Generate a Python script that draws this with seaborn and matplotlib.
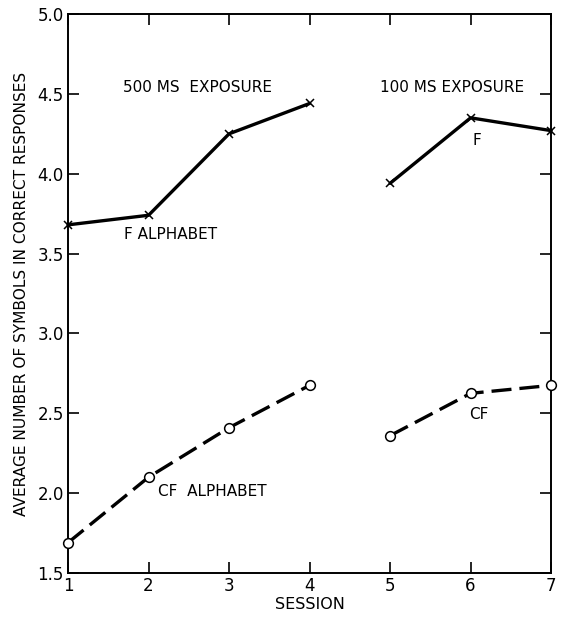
import matplotlib
matplotlib.use("Agg")
import matplotlib.pyplot as plt
import seaborn as sns
import pandas as pd

sessions_500 = [1, 2, 3, 4]
sessions_100 = [5, 6, 7]
f_500 = [3.68, 3.74, 4.25, 4.44]
f_100 = [3.94, 4.35, 4.27]
cf_500 = [1.69, 2.10, 2.41, 2.675]
cf_100 = [2.36, 2.625, 2.675]
x_ticks = [1, 2, 3, 4, 5, 6, 7]
y_ticks = [1.5, 2.0, 2.5, 3.0, 3.5, 4.0, 4.5, 5.0]

sns.set_theme(style="ticks")
plt.rcParams['font.family'] = ['DejaVu Sans']

fig = plt.figure(figsize=(5.67, 6.18), dpi=100)
ax = fig.add_axes([0.12, 0.0728, 0.852, 0.9045])

def seg(x, y, dashed, marker):
    df = pd.DataFrame({"session": x, "value": y})
    sns.lineplot(data=df, x="session", y="value", ax=ax, color="black",
                 linewidth=2.4, linestyle=(0, (6, 2.4)) if dashed else "-",
                 marker=marker, markersize=7 if marker == "o" else 6,
                 markerfacecolor="white", markeredgecolor="black",
                 markeredgewidth=1.1, estimator=None, zorder=3, clip_on=False)

seg(sessions_500, f_500, False, "x")
seg(sessions_100, f_100, False, "x")
seg(sessions_500, cf_500, True, "o")
seg(sessions_100, cf_100, True, "o")

ax.set_xlim(1, 7)
ax.set_ylim(1.5, 5.0)
ax.set_xticks(x_ticks)
ax.set_yticks(y_ticks)
ax.set_xticklabels([str(t) for t in x_ticks])
ax.set_yticklabels([f"{t:.1f}" for t in y_ticks])
ax.tick_params(direction="in", length=8, width=1.2, top=True, right=True,
               labelsize=12, colors="black", pad=3)
for s in ax.spines.values():
    s.set_linewidth(1.4)
    s.set_color("black")

ax.set_xlabel("SESSION", fontsize=11.5, labelpad=1, color="black")
ax.set_ylabel("AVERAGE NUMBER OF SYMBOLS IN CORRECT RESPONSES", fontsize=11.1,
              labelpad=6, color="black")

tk = dict(fontsize=11, color="black", va="center", ha="left")
ax.text(1.68, 4.54, "500 MS  EXPOSURE", **tk)
ax.text(1.70, 3.62, "F ALPHABET", **tk)
ax.text(4.88, 4.54, "100 MS EXPOSURE", **tk)
ax.text(6.02, 4.21, "F", **tk)
ax.text(2.12, 2.01, "CF  ALPHABET", **tk)
ax.text(5.98, 2.49, "CF", **tk)

fig.savefig("out.png", dpi=100, facecolor="white")
